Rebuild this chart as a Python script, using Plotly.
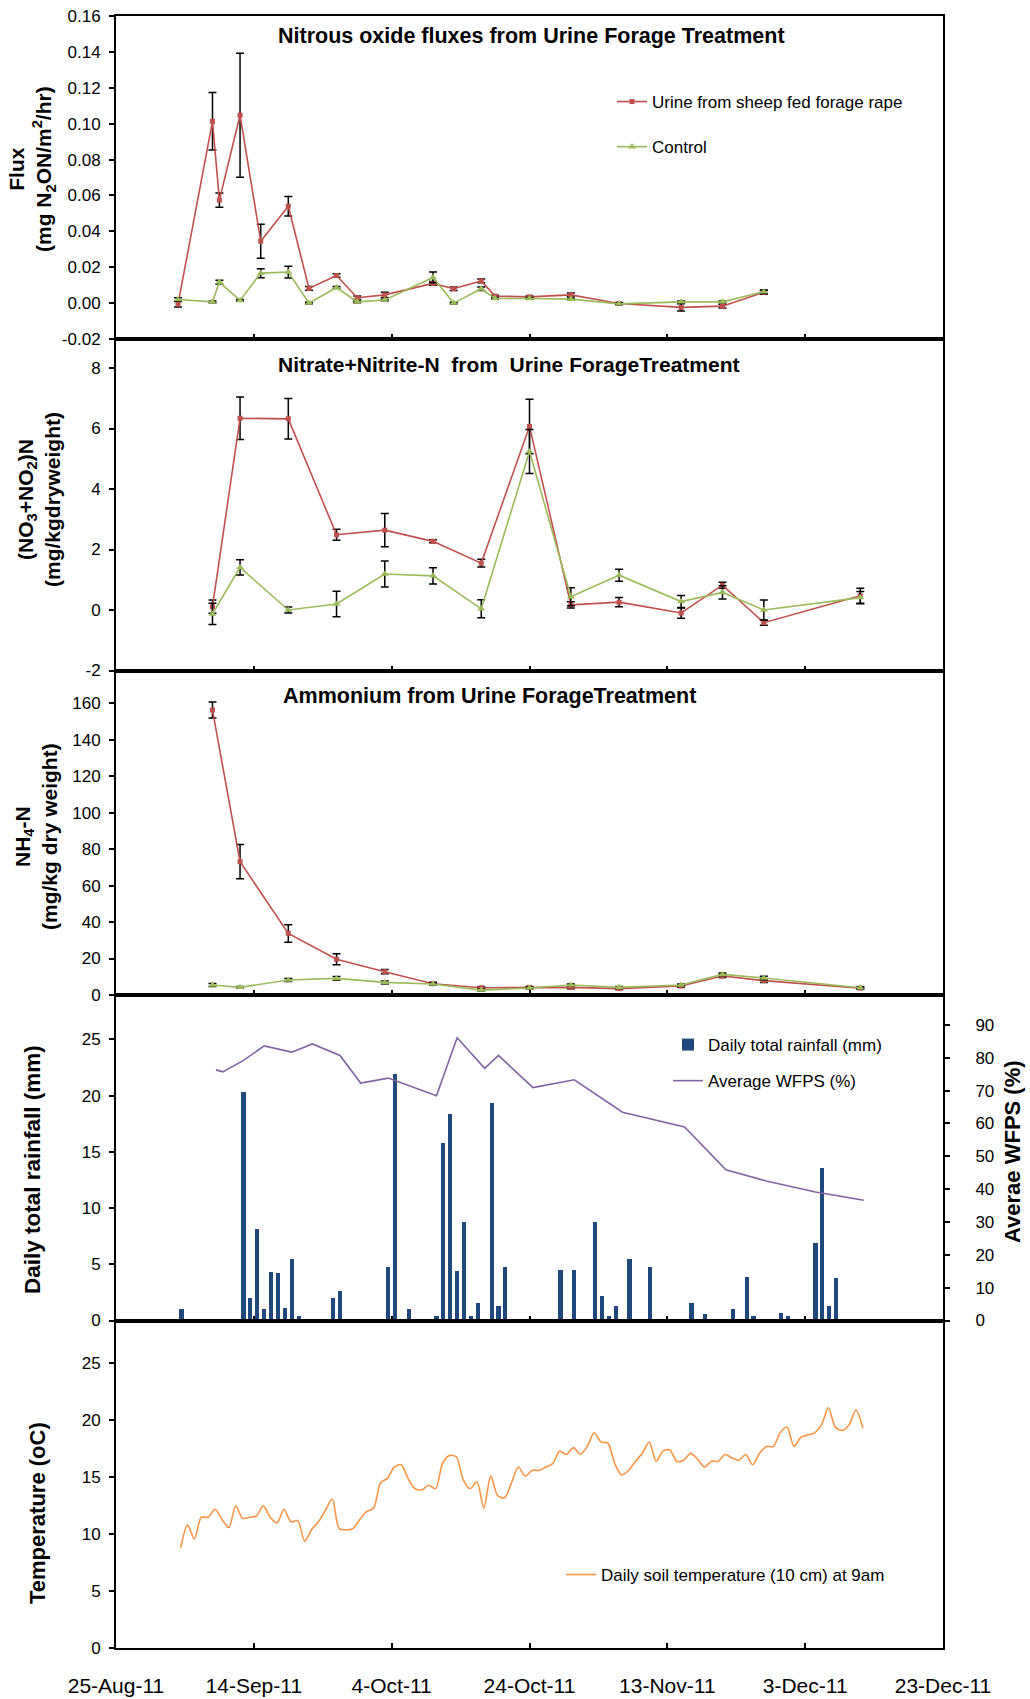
import plotly.graph_objects as go
import pandas as pd

W, H = 1030, 1699

# ---------------- data ----------------
flux_dates = ["2011-09-03", "2011-09-08", "2011-09-09", "2011-09-12", "2011-09-15", "2011-09-19",
              "2011-09-22", "2011-09-26", "2011-09-29", "2011-10-03", "2011-10-10", "2011-10-13",
              "2011-10-17", "2011-10-19", "2011-10-24", "2011-10-30", "2011-11-06", "2011-11-15",
              "2011-11-21", "2011-11-27"]
flux_urine = [-0.0006, 0.1013, 0.0574, 0.1047, 0.0345, 0.0540, 0.0082, 0.0154, 0.0030, 0.0046,
              0.0110, 0.0080, 0.0124, 0.0039, 0.0035, 0.0046, -0.0002, -0.0024, -0.0017, 0.0060]
flux_urine_se = [0.0015, 0.0160, 0.0040, 0.0345, 0.0095, 0.0054, 0.0010, 0.0010, 0.0010, 0.0015,
                 0.0010, 0.0010, 0.0010, 0.0005, 0.0005, 0.0010, 0.0005, 0.0020, 0.0010, 0.0010]
flux_control = [0.0020, 0.0007, 0.0117, 0.0015, 0.0167, 0.0173, 0.0000, 0.0087, 0.0007, 0.0017,
                0.0143, 0.0000, 0.0080, 0.0026, 0.0026, 0.0022, -0.0004, 0.0007, 0.0007, 0.0063]
flux_control_se = [0.0010, 0.0005, 0.0010, 0.0005, 0.0025, 0.0033, 0.0005, 0.0005, 0.0005, 0.0005,
                   0.0030, 0.0005, 0.0010, 0.0005, 0.0005, 0.0005, 0.0005, 0.0005, 0.0005, 0.0010]

soil_dates = ["2011-09-08", "2011-09-12", "2011-09-19", "2011-09-26", "2011-10-03", "2011-10-10",
              "2011-10-17", "2011-10-24", "2011-10-30", "2011-11-06", "2011-11-15", "2011-11-21",
              "2011-11-27", "2011-12-11"]
no3_urine = [0.11, 6.34, 6.32, 2.49, 2.64, 2.27, 1.55, 6.07, 0.17, 0.26, -0.10, 0.82, -0.42, 0.47]
no3_urine_se = [0.22, 0.70, 0.67, 0.18, 0.55, 0.05, 0.13, 0.90, 0.10, 0.15, 0.17, 0.10, 0.08, 0.25]
no3_control = [-0.13, 1.41, 0.00, 0.20, 1.19, 1.13, 0.04, 5.24, 0.44, 1.15, 0.28, 0.58, 0.00, 0.41]
no3_control_se = [0.35, 0.25, 0.10, 0.42, 0.43, 0.27, 0.30, 0.73, 0.30, 0.20, 0.20, 0.22, 0.33, 0.20]

nh4_urine = [156.3, 73.1, 33.8, 19.6, 12.8, 6.2, 4.0, 4.2, 4.2, 3.5, 4.9, 10.4, 7.9, 3.7]
nh4_urine_se = [4.4, 9.4, 4.8, 3.0, 1.2, 0.8, 0.5, 0.5, 0.8, 0.5, 0.6, 0.8, 1.0, 0.5]
nh4_control = [5.5, 4.2, 8.2, 9.1, 6.9, 6.0, 2.7, 3.8, 5.5, 4.2, 5.5, 11.3, 9.3, 4.0]
nh4_control_se = [0.8, 0.5, 0.8, 1.0, 0.8, 0.6, 0.5, 0.5, 0.6, 0.5, 0.6, 0.8, 1.0, 0.5]

rain_dates = ["2011-09-03", "2011-09-12", "2011-09-13", "2011-09-14", "2011-09-15", "2011-09-16",
              "2011-09-17", "2011-09-18", "2011-09-19", "2011-09-20", "2011-09-25", "2011-09-26",
              "2011-09-27", "2011-10-02", "2011-10-03", "2011-10-04", "2011-10-06", "2011-10-10",
              "2011-10-11", "2011-10-12", "2011-10-13", "2011-10-14", "2011-10-15", "2011-10-16",
              "2011-10-18", "2011-10-19", "2011-10-20", "2011-10-28", "2011-10-30", "2011-11-02",
              "2011-11-03", "2011-11-04", "2011-11-05", "2011-11-07", "2011-11-10", "2011-11-13",
              "2011-11-16", "2011-11-18", "2011-11-22", "2011-11-24", "2011-11-25", "2011-11-29",
              "2011-11-30", "2011-12-04", "2011-12-05", "2011-12-06", "2011-12-07"]
rain_mm = [1.0, 20.3, 2.0, 8.1, 1.0, 4.3, 4.2, 1.1, 5.5, 0.4, 2.0, 2.6, 0.15, 0.1, 4.8, 21.9, 1.0,
           0.4, 15.8, 18.4, 4.4, 8.8, 0.4, 1.6, 19.3, 1.3, 4.8, 4.5, 4.5, 8.8, 2.2, 0.4, 1.3, 5.5,
           4.8, 0.15, 1.6, 0.55, 1.0, 3.9, 0.4, 0.7, 0.4, 6.9, 13.6, 1.3, 3.8]

wfps_dates = ["2011-09-08", "2011-09-09", "2011-09-12", "2011-09-15", "2011-09-19", "2011-09-22",
              "2011-09-26", "2011-09-29", "2011-10-03", "2011-10-10", "2011-10-13", "2011-10-17",
              "2011-10-19", "2011-10-24", "2011-10-30", "2011-11-06", "2011-11-15", "2011-11-21",
              "2011-11-27", "2011-12-04", "2011-12-11"]
wfps = [76.3, 75.7, 79.2, 83.6, 81.7, 84.2, 80.7, 72.3, 73.8, 68.4, 86.1, 76.8, 80.7, 70.9, 73.3,
        63.4, 58.9, 45.9, 42.4, 39.1, 36.6]

soil_temp = [8.8, 10.8, 9.6, 11.5, 11.5, 12.2, 11.3, 10.6, 12.5, 11.4, 11.5, 11.6, 12.5, 11.5, 11.0,
             12.2, 11.1, 11.2, 9.4, 10.4, 11.1, 12.1, 13.1, 10.5, 10.4, 10.5, 11.3, 12.0, 12.3, 14.5,
             14.9, 15.9, 16.1, 14.9, 14.0, 13.9, 14.3, 14.0, 16.2, 16.9, 16.8, 14.8, 14.0, 14.6, 12.3,
             15.1, 13.4, 13.2, 14.5, 15.9, 15.1, 15.6, 15.6, 15.9, 16.2, 17.3, 17.0, 17.6, 17.0, 17.7,
             18.9, 18.1, 18.0, 16.2, 15.2, 15.6, 16.4, 17.1, 18.1, 16.4, 17.3, 17.4, 16.4, 16.5, 17.1,
             16.6, 15.9, 16.4, 16.4, 17.0, 16.7, 16.5, 17.0, 16.1, 17.1, 17.7, 17.7, 18.9, 19.4, 17.7,
             18.5, 18.7, 18.9, 19.6, 21.1, 19.4, 19.1, 19.6, 20.9, 19.3]
temp_dates = pd.date_range("2011-09-03 09:00", periods=len(soil_temp), freq="D")

flux_ticks = [-0.02, 0.0, 0.02, 0.04, 0.06, 0.08, 0.10, 0.12, 0.14, 0.16]
flux_ticktext = ["-0.02", "0.00", "0.02", "0.04", "0.06", "0.08", "0.10", "0.12", "0.14", "0.16"]
no3_ticks = [-2, 0, 2, 4, 6, 8]
no3_ticktext = ["-2", "0", "2", "4", "6", "8"]
nh4_ticks = [0, 20, 40, 60, 80, 100, 120, 140, 160]
rain_ticks = [0, 5, 10, 15, 20, 25]
wfps_ticks = [0, 10, 20, 30, 40, 50, 60, 70, 80, 90]
temp_ticks = [0, 5, 10, 15, 20, 25]

# ---------------- styling ----------------
FONT = "Liberation Sans, Arial, sans-serif"
RED = "#C0504D"
GREEN = "#9BBB59"
BLUE = "#1F497D"
PURPLE = "#8064A2"
ORANGE = "#F79646"
DAY = 86400000


def ydom(top, bottom):
    return [1 - bottom / H, 1 - top / H]


xdom = [116 / W, 943 / W]

fig = go.Figure()


def add_pair(xs, yu, yu_se, yc, yc_se, ax, show):
    xa = "x" if ax == 1 else f"x{ax}"
    ya = "y" if ax == 1 else f"y{ax}"
    fig.add_trace(go.Scatter(
        x=xs, y=yu, mode="lines+markers", name="Urine from sheep fed forage rape",
        legendgroup="u", showlegend=show, legend="legend",
        line=dict(color=RED, width=1.6), marker=dict(symbol="square", size=5, color=RED),
        error_y=dict(type="data", array=yu_se, color="black", thickness=1.5, width=4),
        xaxis=xa, yaxis=ya))
    fig.add_trace(go.Scatter(
        x=xs, y=yc, mode="lines+markers", name="Control",
        legendgroup="c", showlegend=show, legend="legend",
        line=dict(color=GREEN, width=1.6), marker=dict(symbol="triangle-up", size=7, color=GREEN),
        error_y=dict(type="data", array=yc_se, color="black", thickness=1.5, width=4),
        xaxis=xa, yaxis=ya))


add_pair(flux_dates, flux_urine, flux_urine_se, flux_control, flux_control_se, 1, True)
add_pair(soil_dates, no3_urine, no3_urine_se, no3_control, no3_control_se, 2, False)
add_pair(soil_dates, nh4_urine, nh4_urine_se, nh4_control, nh4_control_se, 3, False)

fig.add_trace(go.Bar(
    x=rain_dates, y=rain_mm, name="Daily total rainfall (mm)", marker_color=BLUE,
    marker_line_width=0, width=0.6 * DAY, xperiod=DAY, xperiodalignment="middle",
    legend="legend2", legendgroup="r", xaxis="x4", yaxis="y4"))
fig.add_trace(go.Scatter(
    x=wfps_dates, y=wfps, mode="lines", name="Average WFPS (%)",
    line=dict(color=PURPLE, width=1.6), xperiod=DAY, xperiodalignment="middle",
    legend="legend2", legendgroup="w", xaxis="x4", yaxis="y6"))

fig.add_trace(go.Scatter(
    x=temp_dates, y=soil_temp, mode="lines", name="Daily soil temperature (10 cm) at 9am",
    line=dict(color=ORANGE, width=1.6, shape="spline", smoothing=0.8),
    legend="legend3", xaxis="x5", yaxis="y5"))

# ---------------- axes ----------------
xbase = dict(type="date", range=["2011-08-25", "2011-12-23"], domain=xdom,
             tick0="2011-08-25", dtick=20 * DAY, ticks="inside", ticklen=5, tickwidth=1.5,
             tickcolor="black", showline=True, linecolor="black", linewidth=2, mirror=True,
             showgrid=False, zeroline=False, showticklabels=False, automargin=False)
ybase = dict(ticks="outside", ticklen=5, tickwidth=1.5, tickcolor="black", showline=True,
             linecolor="black", linewidth=2, mirror=True, showgrid=False, zeroline=False,
             tickfont=dict(family=FONT, size=17, color="black"), ticklabelstandoff=5,
             automargin=False)

layout_axes = {}
panels = [
    (1, (16, 339), [-0.02, 0.16], flux_ticks, flux_ticktext),
    (2, (339, 670.5), [-2, 8.96], no3_ticks, no3_ticktext),
    (3, (670.5, 995), [0, 178.0], nh4_ticks, [str(v) for v in nh4_ticks]),
    (4, (995, 1320.5), [0, 28.94], rain_ticks, [str(v) for v in rain_ticks]),
    (5, (1320.5, 1648.3), [0, 28.75], temp_ticks, [str(v) for v in temp_ticks]),
]
for i, (top, bot), rng, tv, tt in panels:
    xk = "xaxis" if i == 1 else f"xaxis{i}"
    yk = "yaxis" if i == 1 else f"yaxis{i}"
    ya = "y" if i == 1 else f"y{i}"
    xa = "x" if i == 1 else f"x{i}"
    xd = dict(xbase, anchor=ya)
    if i == 5:
        xd.update(showticklabels=True, tickformat="%-d-%b-%y",
                  tickfont=dict(family=FONT, size=21, color="black"), ticklabelstandoff=17)
    layout_axes[xk] = xd
    layout_axes[yk] = dict(ybase, domain=ydom(top, bot), range=rng, tickvals=tv, ticktext=tt,
                           anchor=xa)

layout_axes["yaxis6"] = dict(ticks="outside", ticklen=5, tickwidth=1.5, tickcolor="black",
                             showline=True, linecolor="black", linewidth=2, showgrid=False,
                             zeroline=False, overlaying="y4", side="right", anchor="x4",
                             range=[0, 99.1], tickvals=wfps_ticks,
                             ticktext=[str(v) for v in wfps_ticks],
                             tickfont=dict(family=FONT, size=17, color="black"),
                             ticklabelstandoff=22, automargin=False)

# ---------------- annotations ----------------
ann = []


def atext(text, x, y, size=20, angle=0, xanchor="center", bold=True):
    ann.append(dict(text=f"<b>{text}</b>" if bold else text, x=x / W, y=1 - y / H,
                    xref="paper", yref="paper", showarrow=False, textangle=angle,
                    xanchor=xanchor, yanchor="middle",
                    font=dict(family=FONT, size=size, color="black")))


atext("Nitrous oxide fluxes from Urine Forage Treatment", 276, 36, size=21.5, xanchor="left")
atext("Nitrate+Nitrite-N  from  Urine ForageTreatment", 276, 365, size=21, xanchor="left")
atext("Ammonium from Urine ForageTreatment", 281, 696, size=21.5, xanchor="left")

atext("Flux<br>(mg N<sub>2</sub>ON/m<sup>2</sup>/hr)", 32, 169, size=21, angle=-90)
atext("(NO<sub>3</sub>+NO<sub>2</sub>)N<br>(mg/kgdryweight)", 39, 500, size=21, angle=-90)
atext("NH<sub>4</sub>-N<br>(mg/kg dry weight)", 36, 837, size=21, angle=-90)
atext("Daily total rainfall (mm)", 32, 1170, size=22.5, angle=-90)
atext("Averae WFPS (%)", 1012, 1152, size=22, angle=-90)
atext("Temperature (oC)", 37, 1513, size=22, angle=-90)

legfont = dict(family=FONT, size=17, color="black")

fig.update_layout(
    width=W, height=H, margin=dict(l=0, r=0, t=0, b=0, autoexpand=False),
    paper_bgcolor="white", plot_bgcolor="white",
    font=dict(family=FONT, size=16, color="black"),
    bargap=0,
    legend=dict(x=612 / W, y=1 - 84 / H, xanchor="left", yanchor="top", font=legfont,
                traceorder="grouped", tracegroupgap=20, bgcolor="rgba(0,0,0,0)"),
    legend2=dict(x=668 / W, y=1 - 1027 / H, xanchor="left", yanchor="top", font=legfont,
                 traceorder="grouped", tracegroupgap=11, bgcolor="rgba(0,0,0,0)"),
    legend3=dict(x=561 / W, y=1 - 1557 / H, xanchor="left", yanchor="top", font=legfont,
                 bgcolor="rgba(0,0,0,0)"),
    annotations=ann,
    **layout_axes,
)

fig.write_html("out.html", config={"displayModeBar": False},
               post_script="document.body.style.margin='0';document.body.style.overflow='hidden';")
